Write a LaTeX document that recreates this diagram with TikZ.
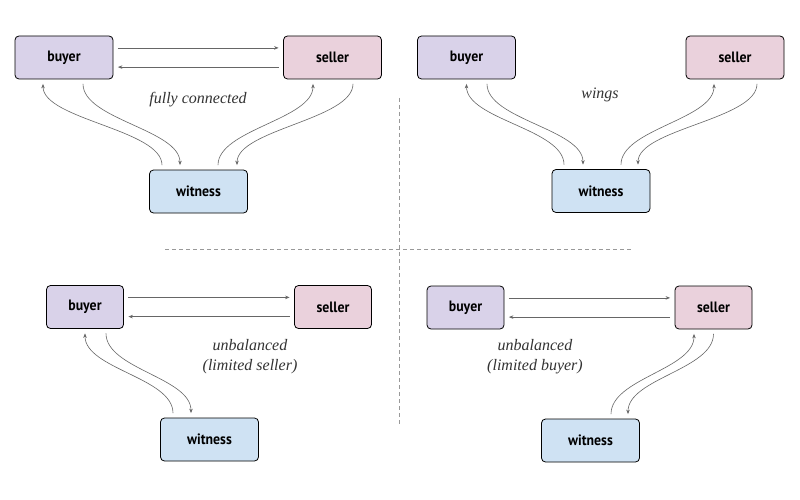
\documentclass[tikz,border=0pt]{standalone}
\usepackage{fontspec}
\usepackage{tikz}
\usetikzlibrary{arrows.meta}
\setmainfont{Liberation Serif}
\newfontfamily\capfont{Liberation Serif}
\newfontfamily\boxfont[FakeStretch=0.92]{PT Sans}
\definecolor{buyerfill}{HTML}{D9D2E9}
\definecolor{sellerfill}{HTML}{EAD1DC}
\definecolor{witnessfill}{HTML}{CFE2F3}
\colorlet{arr}{black!60}
\colorlet{sep}{black!40}

\begin{document}
\begin{tikzpicture}[x=1pt,y=-1pt,
        box/.style={draw,rounded corners=4pt,line width=0.8pt,minimum height=43pt,
            font=\boxfont\bfseries\fontsize{15}{17}\selectfont},
        wide/.style={box,minimum width=98pt},
        narrow/.style={box,minimum width=77pt},
        buyer/.style={fill=buyerfill},
        seller/.style={fill=sellerfill},
        witness/.style={fill=witnessfill},
        link/.style={arr,line width=0.6pt,-{Stealth[length=4.5pt,width=3.5pt]},
            shorten <=4.5pt,shorten >=4.5pt},
        caption/.style={font=\capfont\itshape\fontsize{16}{20}\selectfont,text=black!80,align=center},
        divider/.style={sep,line width=0.6pt,dash pattern=on 4pt off 3pt}]
    \fill[white] (0,0) rectangle (800,500);
    \useasboundingbox (0,0) rectangle (800,500);

    % fully connected
    \node[wide,buyer] (b1) at (64,57.5) {buyer};
    \node[wide,seller] (s1) at (332.5,57.5) {seller};
    \node[wide,witness] (w1) at (198.5,191.5) {witness};
    \node[caption] (c1) at (198,100) {fully connected};

    % wings
    \node[wide,buyer] (b2) at (466.5,57.5) {buyer};
    \node[wide,seller] (s2) at (735,57.5) {seller};
    \node[wide,witness] (w2) at (601,191) {witness};
    \node[caption] (c2) at (600,95) {wings};

    % limited seller
    \node[narrow,buyer] (b3) at (85,307) {buyer};
    \node[narrow,seller] (s3) at (333,307) {seller};
    \node[wide,witness] (w3) at (209.5,439.5) {witness};
    \node[caption] (c3) at (250,357) {unbalanced\\(limited seller)};

    % limited buyer
    \node[narrow,buyer] (b4) at (465.5,307.5) {buyer};
    \node[narrow,seller] (s4) at (713.5,307.5) {seller};
    \node[wide,witness] (w4) at (590.5,440.5) {witness};
    \node[caption] (c4) at (535,357) {unbalanced\\(limited buyer)};

    \foreach \p in {1,3,4} {
        \draw[link] ([yshift=9.6pt]b\p.east) -- ([yshift=9.6pt]s\p.west);
        \draw[link] ([yshift=-9.6pt]s\p.west) -- ([yshift=-9.6pt]b\p.east);
    }

    \draw[link] ([xshift=-36.5pt]w1.north) .. controls +(0,-40) and +(0,40) .. ([xshift=-21pt]b1.south);
    \draw[link] ([xshift=19pt]b1.south) .. controls +(0,40) and +(0,-40) .. ([xshift=-18.5pt]w1.north);
    \draw[link] ([xshift=19.5pt]w1.north) .. controls +(0,-40) and +(0,40) .. ([xshift=-19.5pt]s1.south);
    \draw[link] ([xshift=20.5pt]s1.south) .. controls +(0,40) and +(0,-40) .. ([xshift=38.5pt]w1.north);

    \draw[link] ([xshift=-37pt]w2.north) .. controls +(0,-40) and +(0,40) .. (b2.south);
    \draw[link] ([xshift=20.5pt]b2.south) .. controls +(0,40) and +(0,-40) .. ([xshift=-18pt]w2.north);
    \draw[link] ([xshift=20pt]w2.north) .. controls +(0,-40) and +(0,40) .. ([xshift=-21pt]s2.south);
    \draw[link] ([xshift=22pt]s2.south) .. controls +(0,40) and +(0,-40) .. ([xshift=37pt]w2.north);

    \draw[link] ([xshift=-36.5pt]w3.north) .. controls +(0,-40) and +(0,40) .. (b3.south);
    \draw[link] ([xshift=21pt]b3.south) .. controls +(0,40) and +(0,-40) .. ([xshift=-18.5pt]w3.north);

    \draw[link] ([xshift=20.5pt]w4.north) .. controls +(0,-40) and +(0,40) .. ([xshift=-19.5pt]s4.south);
    \draw[link] (s4.south) .. controls +(0,40) and +(0,-40) .. ([xshift=37.5pt]w4.north);

    % \draw[divider] (399,90) -- (399,430);
    \draw[divider] (399,98) -- (399,424);
    \draw[divider] (165,249) -- (631,249);
\end{tikzpicture}
\end{document}
